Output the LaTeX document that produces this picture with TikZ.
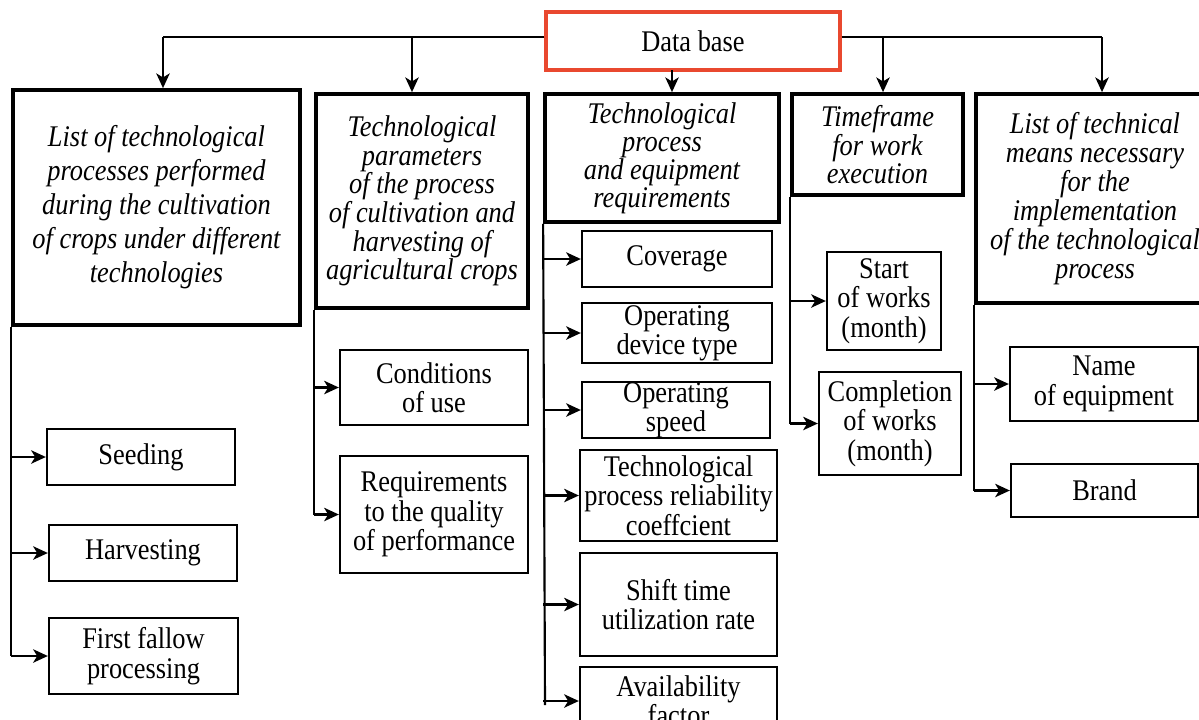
\documentclass[tikz,border=0pt]{standalone}
\usepackage{fontspec}
\setmainfont{Liberation Serif}[FakeStretch=0.88]
\usetikzlibrary{arrows.meta}
\definecolor{dbred}{RGB}{233,72,47}
\newcommand\fsz[1]{\fontsize{22.5pt}{#1}\selectfont}
\newcommand\mybox[7]{%
  \node[#1, minimum width={(#5-#3)*0.75pt}, minimum height={(#6-#4)*0.75pt}] (#2) at ({(#3+#5)/2},{(#4+#6)/2}) {#7};}
\tikzset{
  mainbox/.style={draw, line width=2.8pt, align=center, inner sep=0pt},
  subbox/.style={draw, line width=1.7pt, align=center, inner sep=0pt, font=\fsz{22pt}},
  conn/.style={line width=1.8pt, -{Stealth[length=11pt,width=10pt,inset=3pt]}},
  trunk/.style={line width=1.6pt},
}
\begin{document}
\begin{tikzpicture}[x=0.75pt,y=-0.75pt]
\useasboundingbox (0,0) rectangle (1199,719);
\clip (0,0) rectangle (1199,719);
% Data base
\mybox{draw=dbred, line width=2.6pt, inner sep=0pt, font=\fsz{22pt}}{db}{546}{12}{840}{70}{Data base}
% main boxes
\mybox{mainbox, font=\fsz{25.5pt}\itshape}{b1}{13}{90}{300}{325}{List of technological\\processes performed\\during the cultivation\\of crops under different\\technologies}
\mybox{mainbox, font=\fsz{21.4pt}\itshape}{b2}{316}{94}{528}{308}{Technological\\parameters\\of the process\\of cultivation and\\harvesting of\\agricultural crops}
\mybox{mainbox, font=\fsz{21pt}\itshape}{b3}{545}{94}{779}{222}{Technological\\process\\and equipment\\requirements}
\mybox{mainbox, font=\fsz{19pt}\itshape}{b4}{792}{94}{963}{195}{Timeframe\\for work\\execution}
\mybox{mainbox, font=\fsz{21.75pt}\itshape}{b5}{976}{94}{1214}{303}{List of technical\\means necessary\\for the\\implementation\\of the technological\\process}
% column 1
\mybox{subbox}{c11}{47}{429}{235}{485}{Seeding}
\mybox{subbox}{c12}{49}{525}{237}{581}{Harvesting}
\mybox{subbox}{c13}{49}{618}{238}{694}{First fallow\\processing}
% column 2
\mybox{subbox}{c21}{340}{350}{528}{425}{Conditions\\of use}
\mybox{subbox}{c22}{340}{456}{528}{573}{Requirements\\to the quality\\of performance}
% column 3
\mybox{subbox}{c31}{582}{231}{772}{287}{Coverage}
\mybox{subbox}{c32}{582}{303}{772}{363}{Operating\\device type}
\mybox{subbox}{c33}{582}{383}{770}{437}{Operating\\speed}
\mybox{subbox}{c34}{580}{450}{777}{541}{Technological\\process reliability\\coeffcient}
\mybox{subbox}{c35}{580}{553}{777}{656}{Shift time\\utilization rate}
\mybox{subbox}{c36}{580}{667}{777}{735}{Availability\\factor}
% column 4
\mybox{subbox}{c41}{827}{252}{941}{350}{Start\\of works\\(month)}
\mybox{subbox}{c42}{819}{372}{961}{475}{Completion\\of works\\(month)}
% column 5
\mybox{subbox}{c51}{1010}{347}{1198}{421}{Name\\of equipment}
\mybox{subbox}{c52}{1011}{464}{1198}{517}{Brand}
% top connectors
\coordinate (j1) at (163,37);
\coordinate (j2) at (412,37);
\coordinate (j3) at (672,70);
\coordinate (j4) at (883,37);
\coordinate (j5) at (1102,37);
\draw[trunk] (db.west |- j1) -- (j1);
\draw[conn] (j1) -- (j1 |- b1.north);
\draw[conn] (j2) -- (j2 |- b2.north);
\draw[conn] (j3) -- (j3 |- b3.north);
\draw[trunk] (db.east |- j5) -- (j5);
\draw[conn] (j4) -- (j4 |- b4.north);
\draw[conn] (j5) -- (j5 |- b5.north);
% column trunks
\coordinate (e3) at (545,705);
\draw[trunk] (b1.south west) -- (b1.south west |- c13.west);
\draw[trunk] (b2.south west) -- (b2.south west |- c22.west);
\draw[trunk] (b3.south west) -- (e3);
\draw[trunk] (b4.south west) -- (b4.south west |- c42.west);
\draw[trunk] (b5.south west) -- (b5.south west |- c52.west);
% branch arrows
\foreach \c in {c11,c12,c13} \draw[conn] (b1.south west |- \c.west) -- (\c.west);
\foreach \c in {c21,c22} \draw[conn] (b2.south west |- \c.west) -- (\c.west);
\foreach \c in {c31,c32,c33,c34,c35,c36} \draw[conn] (b3.south west |- \c.west) -- (\c.west);
\foreach \c in {c41,c42} \draw[conn] (b4.south west |- \c.west) -- (\c.west);
\foreach \c in {c51,c52} \draw[conn] (b5.south west |- \c.west) -- (\c.west);
\end{tikzpicture}
\end{document}
